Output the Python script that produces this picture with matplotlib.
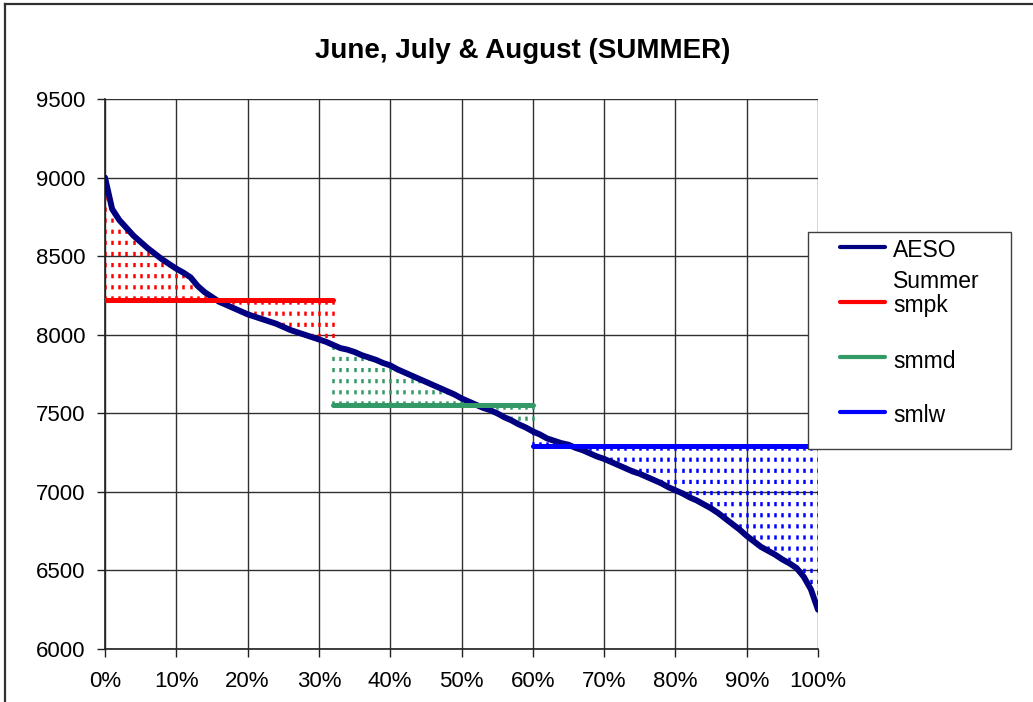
import numpy as np
import matplotlib
matplotlib.use("Agg")
import matplotlib.pyplot as plt
from matplotlib.lines import Line2D
from matplotlib.patches import Rectangle
from matplotlib.ticker import FuncFormatter, MultipleLocator

plt.rcParams['font.family'] = ['Liberation Sans', 'DejaVu Sans']
plt.rcParams['lines.scale_dashes'] = False

# ---- data ----
pct = np.arange(0, 101) / 100.0
aeso = [9000, 8800, 8730, 8680, 8630, 8590, 8550, 8515, 8480, 8450,
        8420, 8395, 8365, 8310, 8270, 8240, 8210, 8190, 8170, 8150,
        8130, 8115, 8100, 8085, 8070, 8050, 8030, 8015, 8000, 7985,
        7970, 7955, 7935, 7915, 7905, 7890, 7870, 7855, 7840, 7820,
        7805, 7780, 7760, 7740, 7720, 7700, 7680, 7660, 7640, 7620,
        7595, 7575, 7555, 7535, 7520, 7500, 7475, 7455, 7430, 7410,
        7385, 7365, 7340, 7325, 7310, 7300, 7280, 7265, 7245, 7225,
        7210, 7190, 7170, 7150, 7130, 7115, 7095, 7075, 7055, 7030,
        7010, 6990, 6965, 6945, 6920, 6895, 6865, 6830, 6795, 6760,
        6720, 6685, 6650, 6625, 6600, 6570, 6545, 6515, 6460, 6380,
        6250]
smpk_range = (0, 32)     # percent indices
smpk_level = 8220
smmd_range = (32, 60)
smmd_level = 7550
smlw_range = (60, 100)
smlw_level = 7290

series = [
    ("smpk", smpk_range, smpk_level, "#FF0000"),
    ("smmd", smmd_range, smmd_level, "#339966"),
    ("smlw", smlw_range, smlw_level, "#0000FF"),
]
aeso_color = "#000080"

fig = plt.figure(figsize=(10.33, 7.02), dpi=100)
ax = fig.add_axes([105/1033, 1-649/702, (818-105)/1033, (649-99)/702])

aeso = np.array(aeso)
# dotted vertical drop lines between level and curve
for name, (i0, i1), lvl, col in series:
    xs = pct[i0:i1+1]
    ys = aeso[i0:i1+1]
    ax.vlines(xs, lvl, ys, colors=col, linewidth=1.8,
              linestyles=[(0, (3.0, 5.0))], zorder=2)

ax.plot(pct, aeso, color=aeso_color, linewidth=4.3, zorder=3,
        solid_capstyle='round', solid_joinstyle='round')

for name, (i0, i1), lvl, col in series:
    ax.plot([pct[i0], pct[i1]], [lvl, lvl], color=col, linewidth=3.6,
            solid_capstyle='round', zorder=4)

ax.set_xlim(0, 1)
ax.set_ylim(6000, 9500)
ax.xaxis.set_major_locator(MultipleLocator(0.1))
ax.yaxis.set_major_locator(MultipleLocator(500))
ax.xaxis.set_major_formatter(FuncFormatter(lambda v, p: f"{int(round(v*100))}%"))
ax.grid(True, color="#303030", linewidth=1.0, zorder=1)
ax.set_axisbelow(True)
for s in ['top', 'right']:
    ax.spines[s].set_visible(False)
for s in ['left', 'bottom']:
    ax.spines[s].set_color('#202020')
    ax.spines[s].set_linewidth(1.2)
ax.tick_params(axis='both', direction='out', length=6, width=1.0,
               color='#202020', labelsize=16, labelcolor='black')
ax.tick_params(axis='y', pad=8)
ax.tick_params(axis='x', pad=10)

# title
fig.text(523/1033, 1-58/702, "June, July & August (SUMMER)", ha='center',
         va='baseline', fontsize=20, fontweight='bold')

# legend (manual, Excel style)
def fx(px):
    return px / 1033
def fy(py):
    return 1 - py / 702

fig.add_artist(Rectangle((fx(808), fy(449)), fx(1011) - fx(808), fy(232) - fy(449),
                         transform=fig.transFigure, facecolor='white',
                         edgecolor='#404040', linewidth=1.0, zorder=10))
leg_items = [
    ("AESO", aeso_color, 247, 257),
    ("smpk", "#FF0000", 302, 312),
    ("smmd", "#339966", 357, 368),
    ("smlw", "#0000FF", 412, 422),
]
for lab, col, ly, tb in leg_items:
    fig.add_artist(Line2D([fx(840), fx(885)], [fy(ly), fy(ly)], color=col,
                          linewidth=3.0, solid_capstyle='round',
                          transform=fig.transFigure, zorder=11))
    fig.text(fx(893), fy(tb), lab, ha='left', va='baseline', fontsize=16.5, zorder=12)
fig.text(fx(893), fy(288), "Summer", ha='left', va='baseline', fontsize=16.5, zorder=12)

# outer chart-area border (top and left visible)
fig.add_artist(Line2D([fx(5), 1.0], [fy(4), fy(4)], color='#303030', linewidth=1.6,
                      transform=fig.transFigure))
fig.add_artist(Line2D([fx(5), fx(5)], [0.0, fy(4)], color='#303030', linewidth=1.6,
                      transform=fig.transFigure))

fig.savefig("out.png", dpi=100)
